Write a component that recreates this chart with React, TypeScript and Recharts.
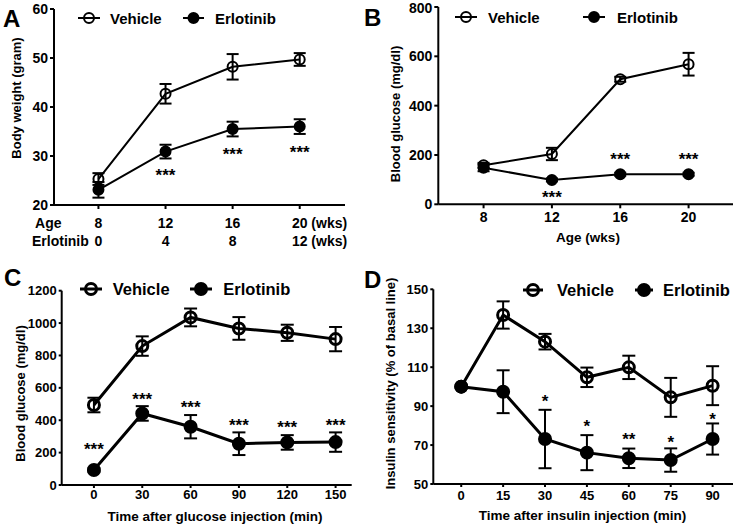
import React from 'react';
import { LineChart, Line, XAxis, YAxis, ErrorBar, LabelList, Legend } from 'recharts';

const FONT = 'Arial, "Liberation Sans", Helvetica, sans-serif';

// A: body weight by age
const ageWeeks = [8, 12, 16, 20];
const erlotinibWeeks = [0, 4, 8, 12];
const weightVehicle = [25.3, 42.7, 48.2, 49.7];
const weightVehicleErr = [1.2, 2.0, 2.6, 1.3];
const weightErlotinib = [23.1, 30.9, 35.5, 36.0];
const weightErlotinibErr = [1.6, 1.4, 1.5, 1.5];
const weightStars = [null, '***', '***', '***'];
const weightStarY = [null, 26.05, 30.45, 30.85];
const weightTicks = [20, 30, 40, 50, 60];

// B: blood glucose by age
const glucoseVehicle = [158, 204, 507, 568];
const glucoseVehicleErr = [10, 25, 10, 46];
const glucoseErlotinib = [148, 99, 122, 122];
const glucoseErlotinibErr = [14, 6, 6, 6];
const glucoseStars = [null, '***', '***', '***'];
const glucoseStarY = [null, 30, 185, 185];
const glucoseTicks = [0, 200, 400, 600, 800];

// C: glucose tolerance
const gttMinutes = [0, 30, 60, 90, 120, 150];
const gttVehicle = [494, 858, 1035, 967, 940, 901];
const gttVehicleErr = [45, 60, 55, 70, 50, 75];
const gttErlotinib = [93, 442, 360, 255, 263, 265];
const gttErlotinibErr = [10, 45, 72, 70, 45, 60];
const gttStars = ['***', '***', '***', '***', '***', '***'];
const gttStarY = [224, 532, 485, 372, 358, 372];
const gttTicks = [0, 200, 400, 600, 800, 1000, 1200];

// D: insulin tolerance
const ittMinutes = [0, 15, 30, 45, 60, 75, 90];
const ittVehicle = [100, 136.8, 123.1, 104.8, 109.9, 94.5, 100.5];
const ittVehicleErr = [null, 7, 4, 5, 6, 10, 10];
const ittErlotinib = [100, 97.4, 73.1, 66.1, 63.2, 62.3, 73.1];
const ittErlotinibErr = [null, 11, 15, 9, 5, 6, 8];
const ittStars = [null, null, '*', '*', '**', '*', '*'];
const ittStarY = [null, null, 92.9, 79.9, 73.3, 71.6, 83.5];
const ittTicks = [50, 70, 90, 110, 130, 150];

type Row = {
  x: number;
  vehicle: number;
  vehicleErr: number | null;
  erlotinib: number;
  erlotinibErr: number | null;
  starY: number | null;
  star: string | null;
};

const rows = (
  xs: number[],
  v: number[],
  ve: (number | null)[],
  e: number[],
  ee: (number | null)[],
  sy: (number | null)[],
  s: (string | null)[]
): Row[] =>
  xs.map((x, i) => ({ x, vehicle: v[i], vehicleErr: ve[i], erlotinib: e[i], erlotinibErr: ee[i], starY: sy[i], star: s[i] }));

const weightData = rows(ageWeeks, weightVehicle, weightVehicleErr, weightErlotinib, weightErlotinibErr, weightStarY, weightStars);
const glucoseData = rows(ageWeeks, glucoseVehicle, glucoseVehicleErr, glucoseErlotinib, glucoseErlotinibErr, glucoseStarY, glucoseStars);
const gttData = rows(gttMinutes, gttVehicle, gttVehicleErr, gttErlotinib, gttErlotinibErr, gttStarY, gttStars);
const ittData = rows(ittMinutes, ittVehicle, ittVehicleErr, ittErlotinib, ittErlotinibErr, ittStarY, ittStars);

// two-row tick for panel A (age / weeks of erlotinib)
const AgeTick = ({ x, y, payload }: any) => {
  const i = ageWeeks.indexOf(payload.value);
  const last = i === ageWeeks.length - 1;
  const r1 = y + 15.6;
  const r2 = y + 34;
  return (
    <g fontFamily={FONT} fontWeight="bold" fontSize={14} fill="#000">
      {i === 0 && (
        <>
          <text x={x - 63.4} y={r1}>Age</text>
          <text x={x - 66.4} y={r2}>Erlotinib</text>
        </>
      )}
      <text x={last ? x - 7.8 : x} y={r1} textAnchor={last ? 'start' : 'middle'}>
        {last ? `${ageWeeks[i]} (wks)` : ageWeeks[i]}
      </text>
      <text x={last ? x - 7.8 : x} y={r2} textAnchor={last ? 'start' : 'middle'}>
        {last ? `${erlotinibWeeks[i]} (wks)` : erlotinibWeeks[i]}
      </text>
    </g>
  );
};

type LegendPos = { icon1: [number, number]; text1: number; icon2: [number, number]; text2: number; y: number };

const LegendIcons = ({ pos, width, thick }: { pos: LegendPos; width: number; thick: boolean }) => {
  const sw = thick ? 3 : 2;
  const r = thick ? 5.5 : 5;
  const fs = thick ? 16.5 : 15;
  const icon = ([a, b]: [number, number], filled: boolean) => (
    <g>
      <line x1={a} x2={b} y1={pos.y} y2={pos.y} stroke="#000" strokeWidth={sw} />
      <circle cx={(a + b) / 2} cy={pos.y} r={r} fill={filled ? '#000' : 'none'} stroke="#000" strokeWidth={sw} />
    </g>
  );
  return (
    <svg width={width} height={pos.y + 14} style={{ display: 'block', overflow: 'visible' }}>
      {icon(pos.icon1, false)}
      <text x={pos.text1} y={pos.y} dominantBaseline="central" fontFamily={FONT} fontWeight="bold" fontSize={fs} fill="#000">
        Vehicle
      </text>
      {icon(pos.icon2, true)}
      <text x={pos.text2} y={pos.y} dominantBaseline="central" fontFamily={FONT} fontWeight="bold" fontSize={fs} fill="#000">
        Erlotinib
      </text>
    </svg>
  );
};

type PanelProps = {
  letter: string;
  letterPos: [number, number];
  left: number;
  top: number;
  width: number;
  height: number;
  data: Row[];
  margin: { top: number; right: number; bottom: number; left: number };
  yAxisWidth: number;
  xAxisHeight: number;
  xDomain: [number, number];
  xTicks: number[];
  yDomain: [number, number];
  yTicks: number[];
  xTickSize: number;
  xTickMargin: number;
  yTickSize: number;
  tickFont: number;
  xTick?: any;
  xTitle?: string;
  xTitlePos?: [number, number];
  yTitle: string;
  yTitlePos: [number, number];
  legend: LegendPos;
  thick: boolean;
};

function Panel(p: PanelProps) {
  const lw = p.thick ? 3 : 2;
  const r = p.thick ? 5.5 : 5;
  const cap = p.thick ? 6.5 : 6;
  const tickStyle = { fill: '#000', fontSize: p.tickFont, fontWeight: 'bold', fontFamily: FONT };
  return (
    <>
      <div
        style={{
          position: 'absolute',
          left: p.letterPos[0],
          top: p.letterPos[1],
          fontFamily: FONT,
          fontWeight: 'bold',
          fontSize: 24,
          lineHeight: '24px',
        }}
      >
        {p.letter}
      </div>
      <div style={{ position: 'absolute', left: p.left, top: p.top }}>
        <LineChart width={p.width} height={p.height} data={p.data} margin={p.margin}>
          <XAxis
            type="number"
            dataKey="x"
            domain={p.xDomain}
            ticks={p.xTicks}
            allowDataOverflow
            height={p.xAxisHeight}
            axisLine={{ stroke: '#000', strokeWidth: 2 }}
            tickLine={{ stroke: '#000', strokeWidth: 2 }}
            tickSize={p.xTickSize}
            tickMargin={p.xTickMargin}
            tick={p.xTick ?? tickStyle}
            label={
              p.xTitle
                ? {
                    value: p.xTitle,
                    content: () => (
                      <text
                        x={p.xTitlePos![0]}
                        y={p.xTitlePos![1]}
                        textAnchor="middle"
                        dominantBaseline="central"
                        fontFamily={FONT}
                        fontWeight="bold"
                        fontSize={13.5}
                        fill="#000"
                      >
                        {p.xTitle}
                      </text>
                    ),
                  }
                : undefined
            }
          />
          <YAxis
            type="number"
            domain={p.yDomain}
            ticks={p.yTicks}
            allowDataOverflow
            width={p.yAxisWidth}
            axisLine={{ stroke: '#000', strokeWidth: 2 }}
            tickLine={{ stroke: '#000', strokeWidth: 2 }}
            tickSize={p.yTickSize}
            tickMargin={2}
            tick={tickStyle}
            label={{
              value: p.yTitle,
              content: () => (
                <text
                  x={p.yTitlePos[0]}
                  y={p.yTitlePos[1]}
                  transform={`rotate(-90 ${p.yTitlePos[0]} ${p.yTitlePos[1]})`}
                  textAnchor="middle"
                  dominantBaseline="central"
                  fontFamily={FONT}
                  fontWeight="bold"
                  fontSize={13}
                  fill="#000"
                >
                  {p.yTitle}
                </text>
              ),
            }}
          />
          <Legend
            layout="horizontal"
            verticalAlign="middle"
            align="center"
            wrapperStyle={{ left: 0, top: 0, width: p.width }}
            content={() => <LegendIcons pos={p.legend} width={p.width} thick={p.thick} />}
          />
          <Line
            dataKey="vehicle"
            name="Vehicle"
            stroke="#000"
            strokeWidth={lw}
            dot={{ r, fill: 'none', stroke: '#000', strokeWidth: lw }}
            activeDot={false}
            isAnimationActive={false}
          >
            <ErrorBar dataKey="vehicleErr" width={cap} stroke="#000" strokeWidth={2} direction="y" />
          </Line>
          <Line
            dataKey="erlotinib"
            name="Erlotinib"
            stroke="#000"
            strokeWidth={lw}
            dot={{ r, fill: '#000', stroke: '#000', strokeWidth: lw }}
            activeDot={false}
            isAnimationActive={false}
          >
            <ErrorBar dataKey="erlotinibErr" width={cap} stroke="#000" strokeWidth={2} direction="y" />
          </Line>
          <Line
            dataKey="starY"
            stroke="none"
            dot={false}
            activeDot={false}
            legendType="none"
            isAnimationActive={false}
          >
            <LabelList
              dataKey="star"
              position="center"
              fill="#000"
              fontSize={17}
              fontWeight="bold"
              fontFamily={FONT}
            />
          </Line>
        </LineChart>
      </div>
    </>
  );
}

export default function App() {
  return (
    <div style={{ position: 'absolute', left: 0, top: 0, width: 733, height: 525, background: '#fff', overflow: 'hidden' }}>
      <Panel
        letter="A"
        letterPos={[3, 7]}
        left={0}
        top={0}
        width={366}
        height={258}
        data={weightData}
        margin={{ top: 9, right: 21, bottom: 8, left: 0 }}
        yAxisWidth={54}
        xAxisHeight={45}
        xDomain={[5.35, 22.7]}
        xTicks={ageWeeks}
        yDomain={[20, 60]}
        yTicks={weightTicks}
        xTickSize={4}
        xTickMargin={3}
        yTickSize={4}
        tickFont={14}
        xTick={<AgeTick />}
        yTitle="Body weight (gram)"
        yTitlePos={[16, 98]}
        legend={{ icon1: [78, 100], text1: 110, icon2: [183, 204], text2: 215, y: 18 }}
        thick={false}
      />
      <Panel
        letter="B"
        letterPos={[364, 6]}
        left={366}
        top={0}
        width={367}
        height={258}
        data={glucoseData}
        margin={{ top: 7, right: 0, bottom: 8.7, left: 0 }}
        yAxisWidth={72.3}
        xAxisHeight={45}
        xDomain={[5.35, 22.6]}
        xTicks={ageWeeks}
        yDomain={[0, 800]}
        yTicks={glucoseTicks}
        xTickSize={4}
        xTickMargin={4}
        yTickSize={4}
        tickFont={14}
        xTitle="Age (wks)"
        xTitlePos={[222, 237.3]}
        yTitle="Blood glucose (mg/dl)"
        yTitlePos={[29, 114]}
        legend={{ icon1: [89, 111], text1: 122, icon2: [217, 239], text2: 251, y: 17 }}
        thick={false}
      />
      <Panel
        letter="C"
        letterPos={[4, 266]}
        left={0}
        top={260}
        width={366}
        height={265}
        data={gttData}
        margin={{ top: 30.7, right: 14.3, bottom: 5, left: 0 }}
        yAxisWidth={61.7}
        xAxisHeight={35}
        xDomain={[-20, 160]}
        xTicks={gttMinutes}
        yDomain={[0, 1200]}
        yTicks={gttTicks}
        xTickSize={3}
        xTickMargin={2}
        yTickSize={3}
        tickFont={13}
        xTitle="Time after glucose injection (min)"
        xTitlePos={[215, 256.7]}
        yTitle="Blood glucose (mg/dl)"
        yTitlePos={[20, 133.5]}
        legend={{ icon1: [80, 102], text1: 112.7, icon2: [190, 212], text2: 223.3, y: 29 }}
        thick
      />
      <Panel
        letter="D"
        letterPos={[364, 268]}
        left={366}
        top={260}
        width={367}
        height={265}
        data={ittData}
        margin={{ top: 29.3, right: 0, bottom: 5, left: 0 }}
        yAxisWidth={67.3}
        xAxisHeight={36}
        xDomain={[-10, 97.3]}
        xTicks={ittMinutes}
        yDomain={[50, 150]}
        yTicks={ittTicks}
        xTickSize={3}
        xTickMargin={3.4}
        yTickSize={3}
        tickFont={13}
        xTitle="Time after insulin injection (min)"
        xTitlePos={[216.5, 255]}
        yTitle="Insulin sensitivity (% of basal line)"
        yTitlePos={[24, 123.5]}
        legend={{ icon1: [157, 177], text1: 191, icon2: [269, 287], text2: 297, y: 30 }}
        thick
      />
    </div>
  );
}
